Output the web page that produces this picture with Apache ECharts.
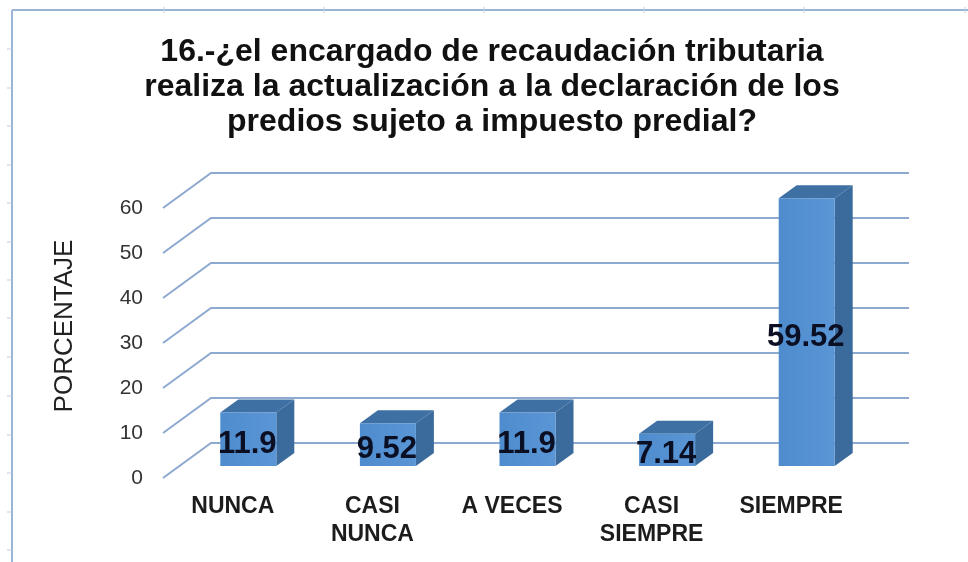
<!DOCTYPE html>
<html><head><meta charset="utf-8">
<style>html,body{margin:0;padding:0;background:#fff}#c{width:968px;height:562px}</style>
<script src="https://cdn.jsdelivr.net/npm/echarts@6/dist/echarts.min.js"></script>
</head><body><div id="c"></div>
<script>
const titleLines = ['16.-¿el encargado de recaudación tributaria','realiza la actualización a la declaración de los','predios sujeto a impuesto predial?'];
const categories = ['NUNCA','CASI\nNUNCA','A VECES','CASI\nSIEMPRE','SIEMPRE'];
const values = [11.9, 9.52, 11.9, 7.14, 59.52];
const valueTicks = [0,10,20,30,40,50,60];

const WALL_DX = 48, WALL_DY = -35;      // depth of the floor/wall
const BAR_DX = 15.5, BAR_DY = -12;      // bar front plane inside the floor
const BAR_W = 56, BAR_DEPTH_X = 18, BAR_DEPTH_Y = -13;

const frameTicksX = [164,324,484,644,804,965];
const frameTicksY = [49,88,126,165,203,242,280,318,357,396,435,473,512,550];
const frameLine = {stroke:'#9ab4d6',lineWidth:2};
const tickLine = {stroke:'#bccde3',lineWidth:1};

const chart = echarts.init(document.getElementById('c'), null, {renderer:'canvas'});
chart.setOption({
  animation:false,
  backgroundColor:'#fff',
  title:{text:titleLines.join('\n'),left:487,top:30,textAlign:'center',
    textStyle:{fontFamily:'Liberation Sans',fontWeight:'bold',fontSize:32,lineHeight:35,color:'#111'}},
  grid:{left:163,top:208,width:698,height:270},
  xAxis:{type:'category',data:categories,axisLine:{show:false},axisTick:{show:false},
    axisLabel:{margin:15,interval:0,fontFamily:'Liberation Sans',fontWeight:'bold',fontSize:23,lineHeight:28,color:'#1c1c1c'}},
  yAxis:{type:'value',min:0,max:60,interval:10,axisLine:{show:false},axisTick:{show:false},splitLine:{show:false},
    axisLabel:{margin:20,fontFamily:'Liberation Sans',fontSize:21,color:'#333'},
    name:'PORCENTAJE',nameLocation:'middle',nameRotate:90,nameGap:85,
    nameTextStyle:{fontFamily:'Liberation Sans',fontSize:26,color:'#222',padding:[0,0,0,34]}},
  graphic:[
    {type:'line',silent:true,shape:{x1:12,y1:10,x2:968,y2:10},style:frameLine},
    {type:'line',silent:true,shape:{x1:12,y1:10,x2:12,y2:562},style:frameLine},
    ...frameTicksX.map(x=>({type:'line',silent:true,shape:{x1:x,y1:7,x2:x,y2:13},style:tickLine})),
    ...frameTicksY.map(y=>({type:'line',silent:true,shape:{x1:7,y1:y,x2:12,y2:y},style:tickLine}))
  ],
  series:[
    {type:'custom',name:'Rejilla',coordinateSystem:'cartesian2d',silent:true,z:1,clip:false,
      data:valueTicks.map(v=>[0,v]),
      encode:{x:0,y:1},
      renderItem(params,api){
        const cs=params.coordSys, p=api.coord([0,api.value(1)]);
        const x0=cs.x, y=p[1];
        return {type:'polyline',silent:true,
          shape:{points:[[x0,y],[x0+WALL_DX,y+WALL_DY],[x0+cs.width+WALL_DX,y+WALL_DY]]},
          style:{fill:null,stroke:'#8ea9cf',lineWidth:2}};
      }},
    {type:'custom',name:'PORCENTAJE',coordinateSystem:'cartesian2d',silent:true,z:3,clip:false,
      data:categories.map((c,i)=>[i,values[i]]),
      encode:{x:0,y:1},
      renderItem(params,api){
        const top=api.coord([api.value(0),api.value(1)]), base=api.coord([api.value(0),0]);
        const l=top[0]+BAR_DX-BAR_W/2, r=l+BAR_W, t=top[1]+BAR_DY, b=base[1]+BAR_DY;
        const dx=BAR_DEPTH_X, dy=BAR_DEPTH_Y;
        return {type:'group',children:[
          {type:'polygon',shape:{points:[[r,t],[r+dx,t+dy],[r+dx,b+dy],[r,b]]},style:{fill:'#3b6b9c'}},
          {type:'polygon',shape:{points:[[l,t],[l+dx,t+dy],[r+dx,t+dy],[r,t]]},style:{fill:'#3f70a3'}},
          {type:'rect',shape:{x:l,y:t,width:BAR_W,height:b-t},
            style:{fill:new echarts.graphic.LinearGradient(0,0,1,0,[{offset:0,color:'#4f8ccd'},{offset:1,color:'#5a96d6'}])}},
          {type:'text',z2:10,style:{text:String(api.value(1)),x:(l+r)/2-1,y:(t+b)/2+5,align:'center',verticalAlign:'middle',
            fontFamily:'Liberation Sans',fontWeight:'bold',fontSize:31,fill:'#0b0f24'}}
        ]};
      }}
  ]
});
</script></body></html>
